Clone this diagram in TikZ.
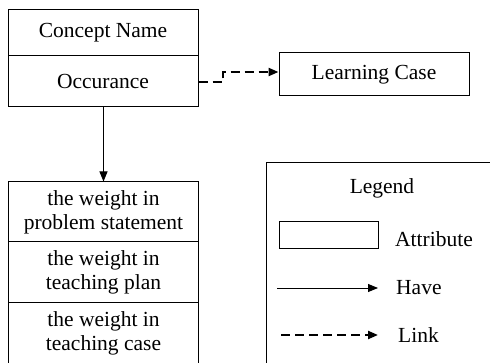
\documentclass[tikz,border=0pt]{standalone}
\usepackage{fontspec}
\setmainfont{Liberation Serif}
\usetikzlibrary{arrows.meta}
\begin{document}
\begin{tikzpicture}[x=1pt,y=-1pt,
  txt/.style={font=\fontsize{21.5}{24}\selectfont, align=center},
  cell/.style={txt, draw, line width=1pt, inner sep=0pt, minimum width=190pt},
  have/.style={line width=0.9pt, -{Triangle[length=10pt,width=8pt]}},
  linkto/.style={line width=2.2pt, dash pattern=on 9pt off 5pt, -{Triangle[length=10pt,width=8pt]}},
]
\useasboundingbox (0,0) rectangle (490,363);
\clip (0,0) rectangle (490,363);

% concept record
\node[cell, minimum height=46pt] (name) at (103,33) {Concept Name};
\node[cell, minimum height=51pt] (occ) at (103,81.5) {Occurance};

% weight record (open at the bottom)
\node[cell, minimum height=60pt] (w1) at (103.5,212) {the weight in\\problem statement};
\node[cell, minimum height=61pt] (w2) at (103.5,272.5) {the weight in\\teaching plan};
\node[txt, inner sep=0pt, minimum width=190pt, minimum height=60pt] (w3) at (103.5,333) {the weight in\\teaching case};
\draw[line width=1pt] (w3.north west) -- ++(0,80) (w3.north east) -- ++(0,80);

% learning case
\node[cell, minimum height=43pt] (lc) at (374,74.5) {Learning Case};

% connectors
\draw[have] (occ.south -| w1.north) -- (w1.north);
\coordinate (bend) at (223,82);
\draw[linkto] (occ.east |- bend) -- (bend) -- (223,72) -- (lc.west |- 0,72);

% legend
\node[draw, line width=1pt, minimum width=240pt, minimum height=220pt, anchor=north west] (legend) at (266,162) {};
\node[txt] (legtitle) at (382,188) {Legend};
\node[draw, line width=1pt, minimum width=99pt, minimum height=27pt, inner sep=0pt] (attrbox) at (328.5,235.5) {};
\node[txt, anchor=west, inner sep=0pt] (attrtxt) at (395,239) {Attribute};
\coordinate (h1) at (277,288);
\coordinate (h2) at (378,288);
\node[txt, anchor=west, inner sep=0pt] (havetxt) at (396,288) {Have};
\draw[have] (h1) -- (h2);
\coordinate (l1) at (281,335);
\coordinate (l2) at (378,335);
\node[txt, anchor=west, inner sep=0pt] (linktxt) at (398,335) {Link};
\draw[linkto] (l1) -- (l2);
\end{tikzpicture}
\end{document}
